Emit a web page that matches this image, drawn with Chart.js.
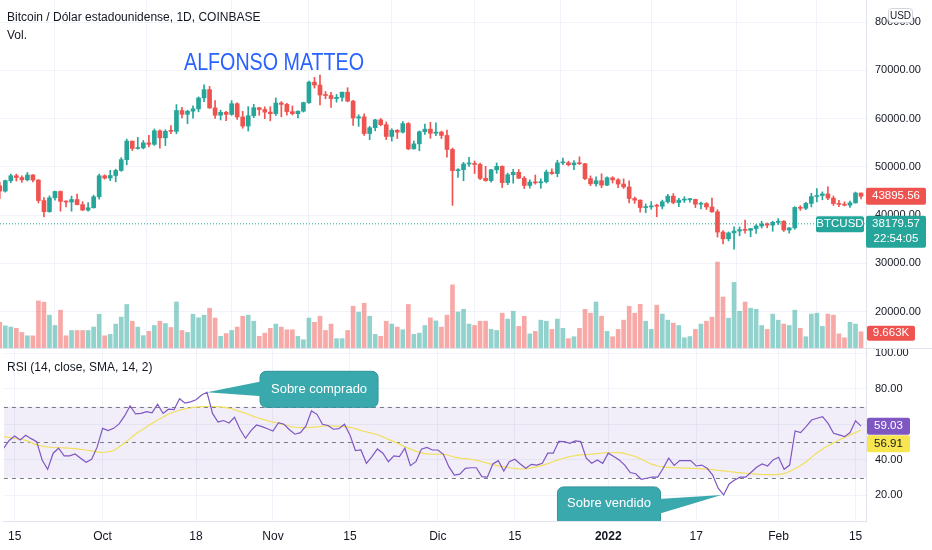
<!DOCTYPE html>
<html>
<head>
<meta charset="utf-8">
<script src="https://cdn.jsdelivr.net/npm/chart.js@4.4.1/dist/chart.umd.min.js"></script>
<style>
  html, body { margin: 0; padding: 0; background: #fff; }
  #wrap { position: relative; width: 932px; height: 550px; overflow: hidden;
          font-family: "Liberation Sans", Arial, sans-serif; color: #131722; }
  #top { position: absolute; left: 0; top: 0; width: 932px; height: 349px; }
  #bot { position: absolute; left: 0; top: 349px; width: 932px; height: 201px; }
  .lbl { position: absolute; white-space: nowrap; line-height: 15px; }
</style>
</head>
<body>
<div id="wrap">
  <div id="top"><canvas id="priceChart"></canvas></div>
  <div id="bot"><canvas id="rsiChart"></canvas></div>
  <div class="lbl" style="left:7px;top:10px;font-size:12px;">Bitcoin / Dólar estadounidense, 1D, COINBASE</div>
  <div class="lbl" style="left:7px;top:28px;font-size:12px;">Vol.</div>
  <div class="lbl" style="left:184px;top:50px;font-size:24px;line-height:24px;color:#2962ff;transform:scaleX(0.82);transform-origin:0 0;">ALFONSO MATTEO</div>
  <div class="lbl" style="left:7px;top:360px;font-size:12px;">RSI (14, close, SMA, 14, 2)</div>
</div>

<script>
// Daily candles, 13 Sep 2021 .. 16 Feb 2022 (index 0 .. 156)
const opens = [
  46060, 44960, 47130, 48150, 47770, 47300, 48310, 47250, 43000, 40700, 43570, 44880, 42830, 42700, 43210, 42170, 41030, 41520,
  43790, 48140, 47660, 48200, 49240, 51490, 55340, 53800, 53930, 54960, 54660, 57470, 56000, 57370, 57350, 61670, 60880, 61530,
  62010, 64280, 66000, 62210, 60690, 61300, 60860, 63080, 60330, 58450, 60590, 62250, 61880,
  61340, 61010, 63230, 62940, 61440, 61010, 61530, 63310, 67550, 66940, 64880, 64780, 64150, 64400, 65470, 63620, 60120, 60360,
  56900, 58100, 59730, 58730, 56290, 57570, 57180, 58960, 53720, 54760, 57270, 57810,
  56950, 57200, 56500, 53600, 49200, 49400, 50580, 50600, 50490, 47600, 47140, 49390, 50090, 46720, 48360, 48860, 47630, 46130,
  46830, 46680, 46910, 48900, 48600, 50820, 50850, 50430, 50800, 50640, 47550, 46470, 47120,
  46200, 47730, 47300, 46430, 45830, 43430, 43090, 41550, 41680, 41860, 41830, 42740, 43920, 42590, 43100, 43180, 43230, 42250,
  42370, 41670, 40680, 36470, 35070, 36290, 36680, 36970, 36830, 37190, 37730, 38170, 37920,
  38490, 38720, 36900, 37330, 41570, 41400, 42410, 43840, 44040, 44380, 43510, 42370, 42210, 42050, 42530, 44570
];
const highs = [
  46770, 47250, 48490, 48490, 48150, 48820, 48370, 47360, 43620, 43970, 44980, 45000, 42960, 43920, 44330, 42780, 42600, 44120,
  48480, 48350, 49250, 49500, 51900, 55750, 55340, 56100, 55450, 56540, 57840, 57680, 57680, 58550, 62900, 62350, 61740, 62630,
  64500, 67000, 66650, 63730, 61750, 61490, 63710, 63290, 61500, 62480, 62970, 62320, 62430,
  62450, 64270, 63520, 63140, 62600, 61590, 63400, 67790, 68530, 69000, 65610, 65460, 65000, 65500, 66400, 63800, 60800, 60980,
  58390, 59860, 60030, 59300, 57900, 57740, 59400, 59180, 55320, 57440, 58870, 59240,
  59100, 57400, 57590, 53900, 49650, 50940, 51940, 51200, 50780, 50100, 49460, 50800, 50200, 48700, 49500, 49440, 48000, 47300,
  48300, 47520, 49330, 49570, 51370, 51810, 51160, 51280, 52070, 50700, 48120, 47900, 48550,
  47930, 47960, 47550, 47500, 47070, 43750, 43150, 42300, 42790, 42250, 43100, 44300, 44450, 43450, 43800, 43480, 43300, 42700,
  42580, 43500, 41100, 36800, 36500, 37550, 37550, 38950, 37250, 38000, 38720, 38370, 38740,
  39270, 38850, 37400, 41740, 41950, 42650, 44500, 45500, 44800, 45850, 43950, 43050, 42750, 42870, 44770, 44570
];
const lows = [
  43400, 44750, 46700, 47050, 46770, 47060, 46870, 42500, 39600, 40570, 43100, 40800, 41700, 40800, 42100, 40930, 40780, 41420,
  43290, 47440, 47130, 46900, 49070, 50400, 53380, 53650, 53700, 54110, 54440, 53860, 54400, 56850, 56850, 60150, 58960, 60080,
  61400, 63500, 62100, 60040, 59710, 59550, 60660, 59830, 58000, 57420, 60190, 60680, 59980,
  59540, 60630, 60380, 60700, 60740, 60150, 61350, 63130, 66330, 62820, 64110, 62310, 63400, 63600, 63470, 58600, 58400, 56500,
  55620, 57460, 58490, 55640, 55340, 55870, 57010, 53550, 53640, 53330, 56700, 55900,
  56450, 55850, 52000, 42000, 47800, 47100, 50100, 48600, 47340, 47000, 46800, 48650, 45700, 46300, 46600, 47560, 45500, 45580,
  46400, 45560, 46640, 48430, 47920, 50420, 50200, 49420, 50460, 47320, 46100, 46000, 45680,
  46100, 46640, 45700, 45500, 42500, 42430, 40610, 40500, 41200, 39650, 41270, 42450, 42320, 41740, 42600, 42650, 41550, 41250,
  41150, 40550, 35440, 34020, 34630, 32900, 35700, 36250, 35500, 36170, 37300, 37360, 36630,
  38030, 36600, 36250, 37050, 40960, 41120, 41680, 42700, 43160, 43200, 42000, 41750, 41880, 41570, 42450, 43330
];
const closes = [
  44960, 47130, 48150, 47770, 47300, 48310, 47250, 43000, 40700, 43570, 44880, 42830, 42700, 43210, 42170, 41030, 41520, 43790,
  48140, 47660, 48200, 49240, 51490, 55340, 53800, 53930, 54960, 54660, 57470, 56000, 57370, 57350, 61670, 60880, 61530, 62010,
  64280, 66000, 62210, 60690, 61300, 60860, 63080, 60330, 58450, 60590, 62250, 61880, 61340,
  61010, 63230, 62940, 61440, 61010, 61530, 63310, 67550, 66940, 64880, 64780, 64150, 64400, 65470, 63620, 60120, 60360, 56900,
  58100, 59730, 58730, 56290, 57570, 57180, 58960, 53720, 54760, 57270, 57810, 56950,
  57200, 56500, 53600, 49200, 49400, 50580, 50600, 50490, 47600, 47140, 49390, 50090, 46720, 48360, 48860, 47630, 46130, 46830,
  46680, 46910, 48900, 48600, 50820, 50850, 50430, 50800, 50640, 47550, 46470, 47120, 46200,
  47730, 47300, 46430, 45830, 43430, 43090, 41550, 41680, 41860, 41830, 42740, 43920, 42590, 43100, 43180, 43230, 42250, 42370,
  41670, 40680, 36470, 35070, 36290, 36680, 36970, 36830, 37190, 37730, 38170, 37920, 38490,
  38720, 36900, 37330, 41570, 41400, 42410, 43840, 44040, 44380, 43510, 42370, 42210, 42050, 42530, 44570, 43895.56
];
// volume in thousands of BTC
const volumes = [
  15, 13, 12.3, 11.6, 9.3, 7.4, 7.4, 27, 26.3, 19, 13.2, 21.8, 7.4, 10.4, 10.4, 10.4, 10.4, 12.3, 19.5, 7.4,
  8.2, 14, 17.9, 25, 15.6, 12.3, 7.5, 9.9, 13.2, 15.6, 14.3, 12.1, 26.4, 10.4, 9.3, 19.5, 17.5, 19, 22.9, 17.4,
  7.1, 8.7, 10.4, 12.3, 18.4, 19, 15.6, 7.1, 8.9, 11.6, 14, 12.3, 10.8, 10.8, 7.1, 5.2, 17.4, 15, 18.4, 10.4,
  14, 5.8, 5.8, 10.4, 24, 20.7, 25.7, 18.4, 8.2, 7.1, 15.6, 14, 12.3, 10.8, 25, 8.2, 8.9, 13.2, 17.5,
  15.8, 12.3, 19, 36, 20.8,
  22.3, 14, 13.2, 15.6, 15.6, 11, 10.4, 20.1, 16.8, 21.2, 12.7, 18.4, 8.5, 9.9, 16.2, 15.6, 11, 16.8, 11.6, 5.8,
  6.9, 11.6, 22.3, 20.1, 26.4, 18.4, 9.9, 6.9, 11, 16.2, 24, 20.1, 25.1, 15.6, 11, 24.6, 19.6, 16.2, 14.5, 13.2,
  6.3, 7, 11, 14, 15.6, 17.9, 48.8, 29.2, 17.3, 37.4, 21.2, 26.4, 22.9, 22.3, 13.2, 11, 19.6, 16.2, 14, 13.2,
  21.8, 11.6, 6.9, 19.6, 20.1, 12.7, 19.6, 19, 8.5, 6.3, 15, 14, 9.663
];
const rsi = [
  46.6, 51, 53.5, 51.3, 53.9, 52, 50.3, 40, 34.7, 43.8, 46.6, 42.3, 42.3, 43.4, 41, 38.7, 40.4, 47.2, 57.8, 56.5,
  57.8, 60.3, 64.8, 70.4, 65.9, 66.2, 67.2, 66.6, 71.4, 66.2, 68.6, 68.3, 74.5, 72, 72.7, 73.9, 76.6, 78.1, 66.2, 61.4,
  62.2, 60.8, 64, 57.3, 52.2, 56.5, 59.7, 58.8, 57.6, 56.3, 61, 60.1, 57, 54.5, 55.4, 59.2, 67.6, 65.7, 60.1, 59.4,
  57.3, 57.6, 60.1, 54.1, 45.3, 45.6, 38.1, 41.9, 46.2, 43.8, 39, 42.3, 41.9, 46.6, 36.8, 39, 46, 47, 45.6, 45.6,
  43.2, 36.2, 31.5, 32,
  35.3, 35.6, 35.6, 30.6, 30.3, 37.7, 39.6, 33.8, 39.0, 40.4, 37.7, 35.3, 37.5, 37.1, 38.1, 43.8, 43.8, 50.5, 50.3, 49.4,
  50.7, 50.3, 41, 38.1, 40, 38.1, 43.8, 41.9, 40, 37.1, 32.9, 32.2, 29.1, 29.7, 30.3, 30.3, 35.3, 41, 36.9, 39.6,
  39.6, 39.6, 36.6, 37.1, 35.3, 31.5, 24.1, 20.3, 26.5, 28.7, 30.3, 30.3, 33.1, 35.9, 37.7, 36.6, 40, 41.5, 34.7, 37.1,
  56.3, 55.4, 58.8, 62.5, 63.5, 64.4, 60.6, 55, 54.1, 53.1, 55.4, 62.1, 59.03
];
const rsiMa = [
  53.1, 52.7, 52.2, 51.8, 51.0, 49.8, 48.5, 47.8, 47.3, 47.0, 46.9, 46.8, 46.6, 46.4, 46.0, 45.6, 45.1, 44.5, 44.2, 44.6,
  45.3, 47.4, 49.6, 52.0, 54.6, 56.6, 58.6, 60.6, 62.5, 64.1, 65.9, 67.0, 68.0, 68.8, 69.3, 69.7, 70.0, 70.1, 70.1, 70.0,
  69.6, 69.2, 68.3, 67.2, 66.3, 65.1, 63.9, 63.0, 62.1, 61.3, 60.6, 59.8, 59.0, 58.4, 58.2, 58.2, 58.3, 58.6, 59.0, 59.2,
  59.1, 58.9, 58.8, 58.3, 57.6, 56.6, 55.8, 55.0, 54.2, 53.0, 51.6, 50.3, 48.9, 47.4, 46.1, 45.0, 44.0, 43.4, 43.3, 43.2,
  43.2, 42.5, 41.6, 41.0, 40.7, 40.3, 39.8, 39.0, 38.2, 37.4, 36.7, 36.2, 35.6, 35.2, 34.9, 35.0, 35.5, 36.2, 36.9, 37.9,
  39.1, 40.2, 41.1, 41.9, 42.4, 42.8, 43.0, 43.3, 43.6, 43.9, 44.1, 44.2, 44.1, 43.6, 42.8, 41.7, 40.4, 38.9, 37.5, 36.6,
  36.1, 35.8, 35.6, 35.5, 35.4, 35.3, 35.2, 35.0, 34.8, 34.5, 34.2, 33.8, 33.5, 33.1, 32.8, 32.5, 32.3, 32.0, 31.8, 31.7,
  31.7, 31.9, 32.3, 33.6, 35.0, 36.8, 39.0, 41.5, 44.0, 46.2, 48.0, 49.6, 51.2, 52.7, 54.1, 55.5, 56.91
];
// axis ticks
const tickIdx = [2, 18, 35, 49, 63, 79, 93, 110, 126, 141, 155];
const tickText = ['15', 'Oct', '18', 'Nov', '15', 'Dic', '15', '2022', '17', 'Feb', '15'];
const priceTicks = [20000, 30000, 40000, 50000, 60000, 70000, 80000];
const rsiTicks = [20, 40, 60, 80, 100];

const lastPrice = 43895.56;
const livePrice = 38179.57;

const GREEN = '#26a69a', RED = '#ef5350';
const X_MIN = 0.04, X_MAX = 156.9;
const idx = closes.map((_, i) => i);
const isUp = i => closes[i] >= opens[i];

Chart.defaults.font.family = '"Liberation Sans", Arial, sans-serif';
Chart.defaults.color = '#131722';

function box(ctx, x, y, w, h, r, fill, stroke) {
  ctx.beginPath();
  ctx.roundRect(x, y, w, h, r);
  ctx.fillStyle = fill;
  ctx.fill();
  if (stroke) { ctx.strokeStyle = stroke; ctx.lineWidth = 1; ctx.stroke(); }
}
function text(ctx, s, x, y, color, font, align) {
  ctx.fillStyle = color;
  ctx.font = font;
  ctx.textAlign = align || 'left';
  ctx.textBaseline = 'middle';
  ctx.fillText(s, x, y);
}

const xAxis = (showLabels) => ({
  type: 'linear', min: X_MIN, max: X_MAX, offset: false,
  afterBuildTicks: s => { s.ticks = tickIdx.map(v => ({ value: v })); },
  afterFit: s => { s.height = showLabels ? 29 : 0; },
  ticks: {
    display: showLabels, padding: 8, maxRotation: 0, autoSkip: false,
    callback: v => tickText[tickIdx.indexOf(v)],
    font: c => ({ size: 12, weight: (c.tick && c.tick.value === 110) ? 'bold' : 'normal' })
  },
  grid: { color: '#f0f3fa', drawTicks: false },
  border: { display: showLabels, color: '#e0e3eb' }
});

const yAxis = (min, max, values) => ({
  position: 'right', min: min, max: max,
  afterBuildTicks: s => { s.ticks = values.map(v => ({ value: v })); },
  afterFit: s => { s.width = 66; s.paddingTop = 0; s.paddingBottom = 0; },
  ticks: { padding: 9, font: { size: 11 }, callback: v => v.toFixed(2) },
  grid: { color: '#f0f3fa', drawTicks: false },
  border: { color: '#e0e3eb' }
});

// ---------- price + volume pane ----------
const pricePlugin = {
  id: 'pricePane',
  beforeDatasetsDraw(chart) {
    const { ctx, chartArea: a, scales } = chart;
    const y = scales.y.getPixelForValue(livePrice);
    ctx.save();
    ctx.strokeStyle = GREEN; ctx.lineWidth = 1; ctx.setLineDash([1, 2]);
    ctx.beginPath(); ctx.moveTo(a.left, y); ctx.lineTo(a.right, y); ctx.stroke();
    ctx.restore();
  },
  afterDraw(chart) {
    const { ctx, chartArea: a, scales } = chart;
    ctx.save();
    // pane separator
    ctx.strokeStyle = '#e0e3eb'; ctx.lineWidth = 1;
    ctx.beginPath(); ctx.moveTo(0, a.bottom - 0.5); ctx.lineTo(chart.width, a.bottom - 0.5); ctx.stroke();
    const ax = a.right;
    // USD badge
    box(ctx, 888.5, 8.5, 24, 14, 3, '#ffffff', '#d1d4dc');
    text(ctx, 'USD', 900.5, 16, '#131722', '10px "Liberation Sans", Arial', 'center');
    // last close
    let y = scales.y.getPixelForValue(lastPrice);
    box(ctx, ax, y - 8.5, 60, 17, 2, RED);
    text(ctx, lastPrice.toFixed(2), ax + 30, y, '#fff', '11.5px "Liberation Sans", Arial', 'center');
    // live price
    y = scales.y.getPixelForValue(livePrice);
    box(ctx, ax - 50, y - 7.5, 48, 16, 2, GREEN);
    text(ctx, 'BTCUSD', ax - 26, y + 0.5, '#fff', '11.5px "Liberation Sans", Arial', 'center');
    box(ctx, ax, y - 8, 60, 32, 2, GREEN);
    text(ctx, livePrice.toFixed(2), ax + 30, y + 0.5, '#fff', '11.5px "Liberation Sans", Arial', 'center');
    text(ctx, '22:54:05', ax + 30, y + 15.5, '#fff', '11.5px "Liberation Sans", Arial', 'center');
    // last volume
    const last = volumes.length - 1;
    y = scales.yv.getPixelForValue(volumes[last]);
    box(ctx, ax + 1, y - 6, 48, 15, 2, RED);
    text(ctx, volumes[last].toFixed(3) + 'K', ax + 25, y + 1.5, '#fff', '11.5px "Liberation Sans", Arial', 'center');
    ctx.restore();
  }
};

new Chart(document.getElementById('priceChart'), {
  type: 'bar',
  data: {
    datasets: [
      {
        label: 'cuerpo', yAxisID: 'y', order: 1, grouped: false,
        data: idx.map(i => ({ x: i, y: [opens[i], closes[i]] })),
        backgroundColor: c => isUp(c.dataIndex) ? GREEN : RED,
        barThickness: 4, minBarLength: 1
      },
      {
        label: 'mecha', yAxisID: 'y', order: 2, grouped: false,
        data: idx.map(i => ({ x: i, y: [lows[i], highs[i]] })),
        backgroundColor: c => isUp(c.dataIndex) ? GREEN : RED,
        barThickness: 1
      },
      {
        label: 'Vol.', yAxisID: 'yv', order: 3, grouped: false,
        data: idx.map(i => ({ x: i, y: volumes[i] })),
        backgroundColor: c => isUp(c.dataIndex) ? 'rgba(38,166,154,0.5)' : 'rgba(239,83,80,0.5)',
        barThickness: 4
      }
    ]
  },
  options: {
    responsive: true, maintainAspectRatio: false, animation: false,
    layout: { padding: 0 },
    plugins: { legend: { display: false }, tooltip: { enabled: false } },
    scales: {
      x: xAxis(false),
      y: yAxis(12230, 84580, priceTicks),
      yv: { display: false, min: 0, max: 196 }
    }
  },
  plugins: [pricePlugin]
});

// ---------- RSI pane ----------
const rsiPlugin = {
  id: 'rsiPane',
  beforeDatasetsDraw(chart) {
    const { ctx, chartArea: a, scales } = chart;
    const y70 = scales.y.getPixelForValue(70), y30 = scales.y.getPixelForValue(30);
    ctx.save();
    ctx.fillStyle = 'rgba(126,87,194,0.1)';
    ctx.fillRect(a.left, y70, a.right - a.left, y30 - y70);
    ctx.strokeStyle = '#787b86'; ctx.lineWidth = 1; ctx.setLineDash([4, 4]);
    [70, 50, 30].forEach(v => {
      const y = Math.round(scales.y.getPixelForValue(v)) + 0.5;
      ctx.beginPath(); ctx.moveTo(a.left, y); ctx.lineTo(a.right, y); ctx.stroke();
    });
    ctx.restore();
  },
  afterDatasetsDraw(chart) {
    const { ctx, chartArea: a, scales } = chart;
    const fill = '#3aa9ae', edge = '#2f9499';
    const font = '13px "Liberation Sans", Arial';
    ctx.save();
    ctx.beginPath(); ctx.rect(a.left, a.top, a.right - a.left, a.bottom - a.top); ctx.clip();
    // overbought callout
    let tx = scales.x.getPixelForValue(37), ty = scales.y.getPixelForValue(rsi[37]);
    let bx = tx + 53, by = ty - 21;
    box(ctx, bx, by, 118, 36, 6, fill, edge);
    ctx.beginPath(); ctx.moveTo(tx, ty); ctx.lineTo(bx + 2, by + 10); ctx.lineTo(bx + 2, by + 25); ctx.closePath();
    ctx.fillStyle = fill; ctx.fill();
    text(ctx, 'Sobre comprado', bx + 59, by + 18, '#fff', font, 'center');
    // oversold callout
    tx = scales.x.getPixelForValue(130.6); ty = scales.y.getPixelForValue(rsi[131]);
    bx = tx - 164; by = ty - 8;
    box(ctx, bx, by, 103, 40, 6, fill, edge);
    ctx.beginPath(); ctx.moveTo(tx, ty); ctx.lineTo(bx + 101, by + 12); ctx.lineTo(bx + 101, by + 27); ctx.closePath();
    ctx.fillStyle = fill; ctx.fill();
    text(ctx, 'Sobre vendido', bx + 51.5, by + 17, '#fff', font, 'center');
    ctx.restore();
  },
  afterDraw(chart) {
    const { ctx, chartArea: a, scales } = chart;
    const ax = a.right;
    const last = rsi.length - 1;
    ctx.save();
    const y1 = scales.y.getPixelForValue(rsi[last]);
    box(ctx, ax + 1, y1 - 8.5, 43, 17, 2, '#7e57c2');
    text(ctx, rsi[last].toFixed(2), ax + 22.5, y1, '#fff', '11.5px "Liberation Sans", Arial', 'center');
    const y2 = y1 + 17.5;
    box(ctx, ax + 1, y2 - 8.5, 43, 17, 2, '#f7e64f');
    text(ctx, rsiMa[last].toFixed(2), ax + 22.5, y2, '#131722', '11.5px "Liberation Sans", Arial', 'center');
    ctx.restore();
  }
};

new Chart(document.getElementById('rsiChart'), {
  type: 'line',
  data: {
    datasets: [
      {
        label: 'RSI', data: idx.map(i => ({ x: i, y: rsi[i] })),
        borderColor: '#7e57c2', borderWidth: 1.2, pointRadius: 0, tension: 0, order: 1
      },
      {
        label: 'MA', data: idx.map(i => ({ x: i, y: rsiMa[i] })),
        borderColor: '#f2df5e', borderWidth: 1.2, pointRadius: 0, tension: 0.3, order: 2
      }
    ]
  },
  options: {
    responsive: true, maintainAspectRatio: false, animation: false,
    layout: { padding: 0 },
    plugins: { legend: { display: false }, tooltip: { enabled: false } },
    scales: {
      x: xAxis(true),
      y: yAxis(5.6, 102.5, rsiTicks)
    }
  },
  plugins: [rsiPlugin]
});
</script>
</body>
</html>
